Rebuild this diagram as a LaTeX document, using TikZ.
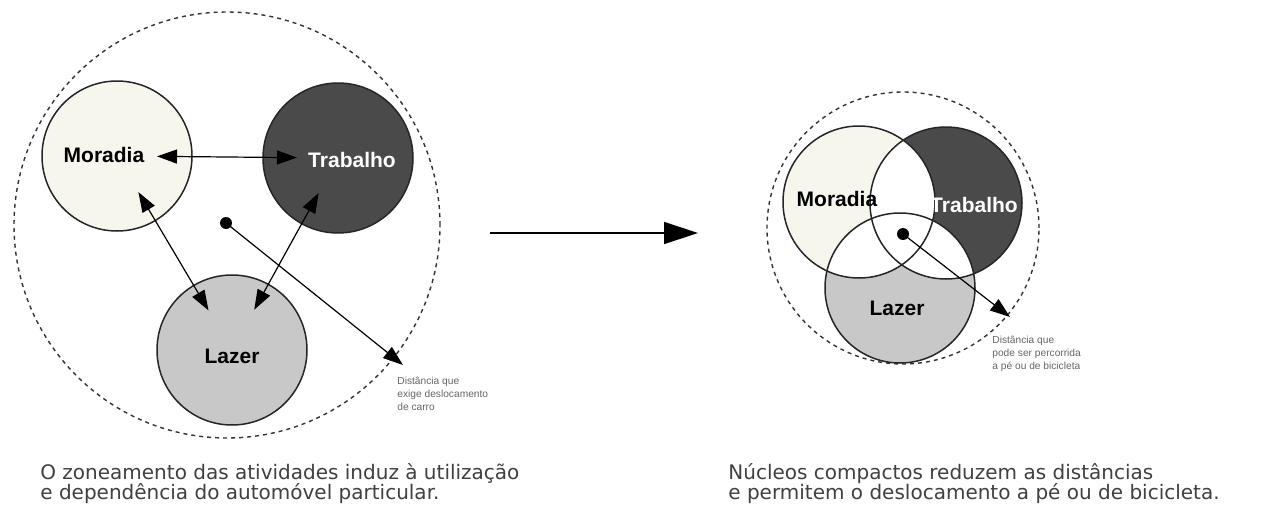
\documentclass[tikz,border=0pt]{standalone}
\usepackage{fontspec}
\setmainfont{DejaVu Sans}
\newfontfamily\labfont{Liberation Sans}
\usetikzlibrary{arrows.meta}
\definecolor{mor}{HTML}{F6F6EC}
\definecolor{trab}{HTML}{4A4A4A}
\definecolor{laz}{HTML}{C8C8C8}
\definecolor{txt}{HTML}{404040}
\definecolor{smalltxt}{HTML}{666666}
\begin{document}
\begin{tikzpicture}[x=0.5pt,y=-0.5pt,
  zone/.style={circle, draw=black!85, line width=0.75pt, minimum size=75pt, inner sep=0pt},
  rzone/.style={circle, draw=none, minimum size=76pt, inner sep=0pt},
  zlabel/.style={font=\labfont\bfseries\fontsize{10.5}{12}\selectfont, inner sep=0pt},
  dblarrow/.style={{Triangle[length=10pt,width=7pt]}-{Triangle[length=10pt,width=7pt]}, line width=0.6pt},
  onearrow/.style={-{Triangle[length=10pt,width=7pt]}, line width=0.6pt},
  outerring/.style={draw=black!80, line width=0.7pt, dash pattern=on 2pt off 2pt, circle, inner sep=0pt},
  centerdot/.style={circle, fill=black, inner sep=0pt, minimum size=6pt},
  notetext/.style={font=\labfont\fontsize{5.1}{6.5}\selectfont, text=smalltxt, anchor=base west, inner sep=0pt},
  captext/.style={font=\fontsize{10}{12}\selectfont, text=txt, anchor=base west, inner sep=0pt}]
\path[use as bounding box, fill=white] (0,0) rectangle (1287,520);

% ---------- left diagram ----------
\node[outerring, minimum size=213pt] (OL) at (227,225) {};
\node[zone, fill=mor] (M) at (117,156) {};
\node[zone, fill=trab] (T) at (338,158) {};
\node[zone, fill=laz] (L) at (232,350) {};
\node[zlabel] (Mt) at (104,155) {Moradia};
\node[zlabel, text=white] (Tt) at (352,160) {Trabalho};
\node[zlabel] (Lt) at (232,356) {Lazer};
\draw[dblarrow, shorten <=20pt, shorten >=20.5pt] (M.center) -- (T.center);
\draw[dblarrow, shorten <=21pt, shorten >=23pt] (M.center) -- (L.center);
\draw[dblarrow, shorten <=20pt, shorten >=23pt] (T.center) -- (L.center);
\node[centerdot] (DL) at (226,223) {};
\coordinate (EL) at (403,365);
\draw[onearrow] (DL.center) -- (EL);
\node[notetext] (NL1) at (397,384) {Distância que};
\node[notetext] (NL2) at (397,397) {exige deslocamento};
\node[notetext] (NL3) at (397,410) {de carro};

% ---------- middle arrow ----------
\coordinate (A1) at (490,233);
\coordinate (A2) at (698,233);
\draw[-{Triangle[length=17pt,width=11pt]}, line width=0.7pt] (A1) -- (A2);

% ---------- right diagram ----------
\node[outerring, minimum size=136pt] (OR) at (903,228) {};
\node[rzone, fill=mor] (RM) at (859,202) {};
\node[rzone, fill=trab] (RT) at (946,203) {};
\node[rzone, fill=laz, minimum size=75pt] (RL) at (900,288) {};
\begin{scope}
  \clip (RM.center) circle[radius=38pt];
  \fill[white] (RT.center) circle[radius=38pt];
  \fill[white] (RL.center) circle[radius=37.5pt];
\end{scope}
\begin{scope}
  \clip (RT.center) circle[radius=38pt];
  \fill[white] (RL.center) circle[radius=37.5pt];
\end{scope}
\draw[black!85, line width=0.75pt] (RM.center) circle[radius=38pt];
\draw[black!85, line width=0.75pt] (RT.center) circle[radius=38pt];
\draw[black!85, line width=0.75pt] (RL.center) circle[radius=37.5pt];
\node[zlabel] (RMt) at (837,199) {Moradia};
\node[zlabel, text=white] (RTt) at (974,205) {Trabalho};
\node[zlabel] (RLt) at (897,308) {Lazer};
\node[centerdot] (DR) at (903,234) {};
\coordinate (ER) at (1010,317);
\draw[onearrow] (DR.center) -- (ER);
\node[notetext] (NR1) at (992,343) {Distância que};
\node[notetext] (NR2) at (992,356) {pode ser percorrida};
\node[notetext] (NR3) at (992,369) {a pé ou de bicicleta};

% ---------- captions ----------
\node[captext] (C1a) at (40,479) {O zoneamento das atividades induz à utilização};
\node[captext] (C1b) at (40,499) {e dependência do automóvel particular.};
\node[captext] (C2a) at (728,479) {Núcleos compactos reduzem as distâncias};
\node[captext] (C2b) at (728,499) {e permitem o deslocamento a pé ou de bicicleta.};
\end{tikzpicture}
\end{document}
